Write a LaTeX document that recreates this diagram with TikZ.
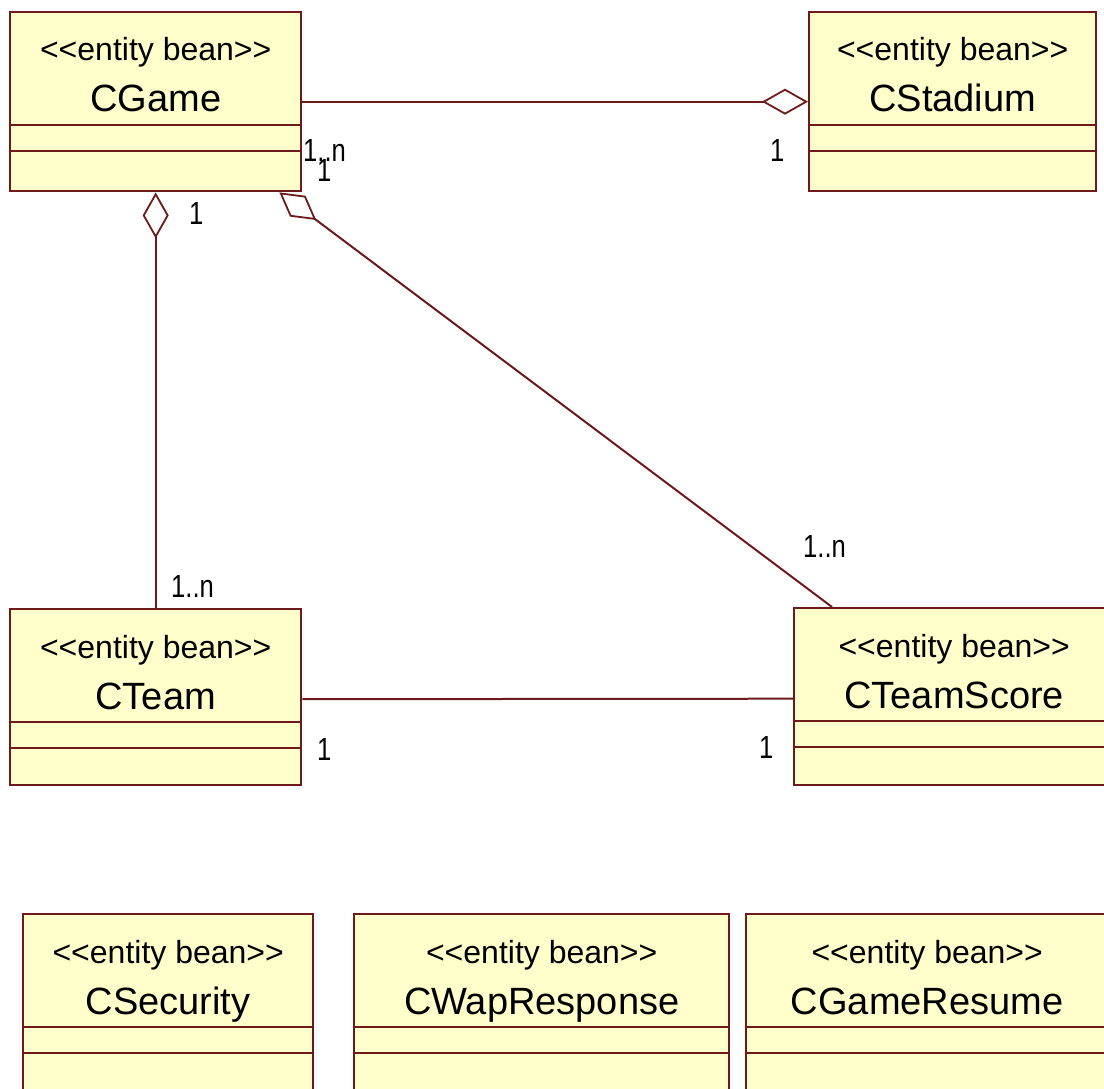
\documentclass[tikz,border=0pt]{standalone}
\usepackage{fontspec}
\setmainfont{Liberation Sans}
\newfontfamily\multfont{Liberation Sans}[FakeStretch=0.8]
\usetikzlibrary{arrows.meta}
\definecolor{umlred}{HTML}{6E1A1A}
\definecolor{umlfill}{HTML}{FFFFCC}
\tikzset{
  classbox/.style={draw=umlred, fill=umlfill, line width=2.4pt, rectangle,
    inner sep=0pt, anchor=north west},
  compline/.style={draw=umlred, line width=2.4pt},
  stereo/.style={font=\fontsize{32}{36}\selectfont, inner sep=0pt, anchor=base},
  cname/.style={font=\fontsize{38}{44}\selectfont, inner sep=0pt, anchor=base},
  mult/.style={font=\multfont\fontsize{32}{36}\selectfont, inner sep=0pt, anchor=base west},
  assoc/.style={draw=umlred, line width=2pt},
  aggr/.style={assoc, -{Diamond[fill=white, length=46pt, width=26pt, line width=1.8pt]}},
}
% class box: name, left, top, width, height, class name
\newcommand{\umlclass}[6]{%
  \node[classbox, minimum width=#4pt, minimum height=#5pt] (#1) at (#2,#3) {};
  \draw[compline] ([yshift=-114pt]#1.north west) -- ([yshift=-114pt]#1.north east);
  \draw[compline] ([yshift=-140pt]#1.north west) -- ([yshift=-140pt]#1.north east);
  \node[stereo] (#1-st) at ([yshift=-50pt]#1.north) {<\kern0pt<entity bean>\kern0pt>};
  \node[cname] (#1-nm) at ([yshift=-101pt]#1.north) {#6};
}
\begin{document}
\begin{tikzpicture}[x=1pt, y=-1pt]
  \useasboundingbox (0,0) rectangle (1104,1089);
  \clip (0,0) rectangle (1104,1089);
  \fill[white] (0,0) rectangle (1104,1089);

  % classes
  \umlclass{game}{9}{11}{291}{179}{CGame}
  \umlclass{stadium}{808}{11}{287}{179}{CStadium}
  \umlclass{team}{9}{608}{291}{176}{CTeam}
  \umlclass{score}{793}{607}{320}{177}{CTeamScore}
  \umlclass{security}{22}{913}{290}{179}{CSecurity}
  \umlclass{wap}{353}{913}{375}{179}{CWapResponse}
  \umlclass{resume}{745}{913}{362}{179}{CGameResume}

  % associations
  \draw[aggr] (game.east) -- (stadium.west);
  \draw[aggr] (team.north) -- (game.south);
  \draw[aggr] ([xshift=39pt]score.north west) -- ([xshift=-23pt]game.south east);
  \draw[assoc] ([yshift=-2pt]team.east) -- ([yshift=-2pt]score.west);

  % multiplicities
  \node[mult] (m1) at (303,162) {1..n};
  \node[mult] (m2) at (317,182) {1};
  \node[mult] (m3) at (770,162) {1};
  \node[mult] (m4) at (189,225) {1};
  \node[mult] (m5) at (171,597) {1..n};
  \node[mult] (m6) at (317,760) {1};
  \node[mult] (m7) at (803,557) {1..n};
  \node[mult] (m8) at (759,758) {1};
\end{tikzpicture}
\end{document}
